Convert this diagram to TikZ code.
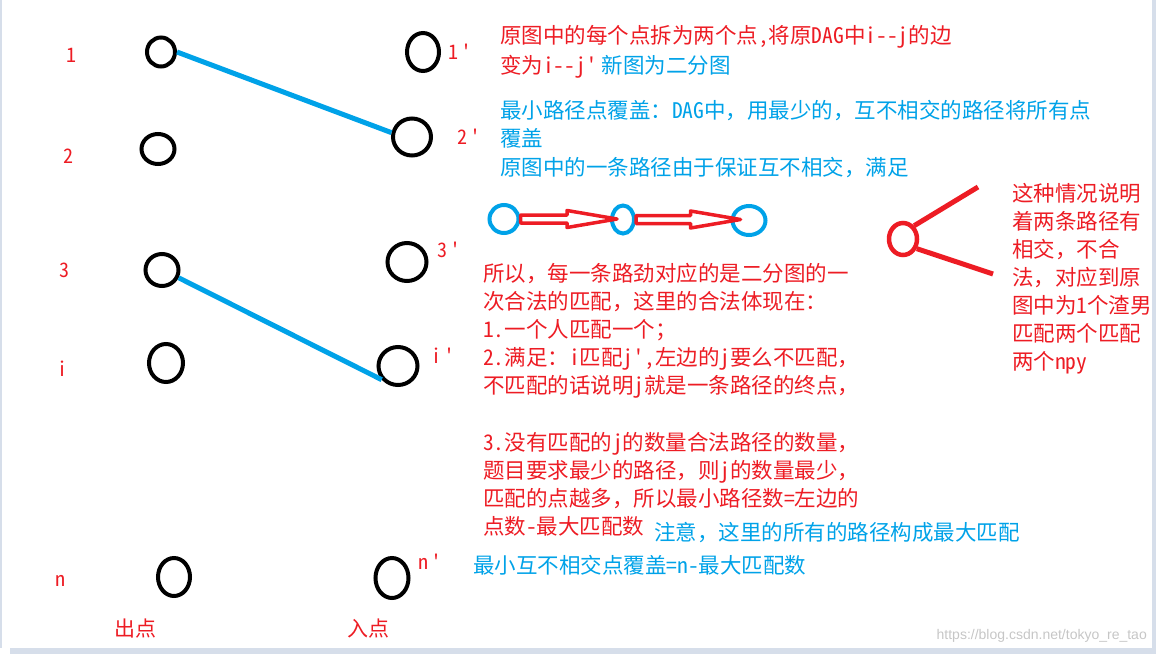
\documentclass[tikz,border=0pt]{standalone}
\usepackage{fontspec}
\newfontfamily\cjk{Noto Sans CJK SC}
\newfontfamily\hwfont[RawFeature=+hwid]{Noto Sans CJK SC}
\newfontfamily\wmfont{Liberation Sans}
\newcommand{\hw}[1]{{\hwfont #1}}
\usetikzlibrary{calc,shapes.geometric}
\definecolor{paintred}{RGB}{237,28,36}
\definecolor{paintblue}{RGB}{0,162,232}
\definecolor{framegray}{RGB}{214,222,234}
\tikzset{
  vtx/.style 2 args={ellipse,draw=black,line width=4pt,inner sep=0pt,
    minimum width=#1pt,minimum height=#2pt},
  pathvtx/.style 2 args={vtx={#1}{#2},draw=paintblue},
  match/.style={draw=paintblue,line width=5pt},
  hollow/.style={draw=paintred,line width=3.5pt,line join=round},
  fork/.style={draw=paintred,line width=5pt},
  lbl/.style={text=paintred,inner sep=0pt,font=\hwfont\fontsize{20}{20}\selectfont},
  redtxt/.style={text=paintred,anchor=west,inner sep=0pt,text height=19pt,
    text depth=2.5pt,font=\cjk\fontsize{21.5}{21.5}\selectfont},
  bluetxt/.style={redtxt,text=paintblue},
}
% hollow paint-style arrow: from, to, overlap of the tip
\newcommand{\hollowarrow}[3]{%
  \draw[hollow] let \p1=(#1.east), \p2=($(#2.west)+(#3,0)$) in
    (\x1,\y1+4pt) -- (\x2-50pt,\y1+4pt) -- (\x2-50pt,\y1+8.5pt) -- (\x2,\y1)
    -- (\x2-50pt,\y1-8.5pt) -- (\x2-50pt,\y1-4pt) -- (\x1,\y1-4pt) -- cycle;}
\begin{document}
\begin{tikzpicture}[x=1pt,y=-1pt]
  \useasboundingbox (0,0) rectangle (1156,654);
  % window frame
  \fill[framegray] (0,0) rectangle (2,648);
  \fill[framegray] (1152,0) rectangle (1156,654);
  \fill[framegray] (10,648) rectangle (1156,654);

  % out points
  \node[vtx={28}{29}] (l1) at (161,52) {};
  \node[vtx={33}{30}] (l2) at (158,149) {};
  \node[vtx={33}{32}] (l3) at (162,270) {};
  \node[vtx={34}{38}] (li) at (166,363) {};
  \node[vtx={32}{38}] (ln) at (174,577) {};
  % in points
  \node[vtx={32}{38}] (r1) at (423,52) {};
  \node[vtx={38}{37}] (r2) at (412,137) {};
  \node[vtx={39}{38}] (r3) at (407,262) {};
  \node[vtx={39}{38}] (ri) at (398,366) {};
  \node[vtx={33}{40}] (rn) at (392,578) {};

  % labels
  \node[lbl] (t1) at (71,55) {1};
  \node[lbl] (t2) at (68,156) {2};
  \node[lbl] (t3) at (64,270) {3};
  \node[lbl] (ti) at (62,369) {i};
  \node[lbl] (tn) at (60,581) {n};
  \node[lbl] (s1) at (460,52) {1\,'};
  \node[lbl] (s2) at (469,137) {2\,'};
  \node[lbl] (s3) at (449,250) {3\,'};
  \node[lbl] (si) at (443,356) {i\,'};
  \node[lbl] (sn) at (430,562) {n\,'};
  \node[lbl,font=\cjk\fontsize{21}{21}\selectfont] (out) at (135,628) {出点};
  \node[lbl,font=\cjk\fontsize{21}{21}\selectfont] (in) at (368,628) {入点};

  % matched edges
  \draw[match] (l1.east) -- (r2.168);
  \draw[match] (l3.-25) -- (ri.220);

  % a path in the DAG
  \node[pathvtx={29}{28}] (pa) at (504,219) {};
  \node[pathvtx={22}{28}] (pb) at (623,219.5) {};
  \node[pathvtx={33}{29}] (pc) at (749,220.5) {};
  \hollowarrow{pa}{pb}{7}
  \hollowarrow{pb}{pc}{10}

  % two paths meeting in one point
  \node[vtx={28}{32},draw=paintred,line width=4.5pt] (bad) at (903,239) {};
  \coordinate (f1) at (978,187);
  \coordinate (f2) at (993,274);
  \draw[fork] (bad.50) -- (f1);
  \draw[fork] (bad.-35) -- (f2);

  % notes
  \node[redtxt] (d1) at (500,35) {原图中的每个点拆为两个点\hw{,}将原\hw{DAG}中\hw{i--j}的边};
  \node[redtxt] (d2) at (500,65) {变为\hw{i--j'} \textcolor{paintblue}{新图为二分图}};
  \node[bluetxt] (d3) at (500,110) {最小路径点覆盖：\hw{DAG}中，用最少的，互不相交的路径将所有点};
  \node[bluetxt] (d4) at (500,138) {覆盖};
  \node[bluetxt] (d5) at (500,167) {原图中的一条路径由于保证互不相交，满足};
  \foreach \s [count=\k from 0] in {{所以，每一条路劲对应的是二分图的一},
      {次合法的匹配，这里的合法体现在：}, {\hw{1.}一个人匹配一个；},
      {\hw{2.}满足：\hw{i}匹配\hw{j',}左边的\hw{j}要么不匹配，},
      {不匹配的话说明\hw{j}就是一条路径的终点，}}
    \node[redtxt] (a\k) at (483,273+28*\k) {\s};
  \foreach \s [count=\k from 0] in {{\hw{3.}没有匹配的\hw{j}的数量合法路径的数量，},
      {题目要求最少的路径，则\hw{j}的数量最少，},
      {匹配的点越多，所以最小路径数\hw{=}左边的}, {点数\hw{-}最大匹配数}}
    \node[redtxt] (b\k) at (483,442+28*\k) {\s};
  \node[bluetxt] (d6) at (654,532) {注意，这里的所有的路径构成最大匹配};
  \node[bluetxt] (d7) at (473,565) {最小互不相交点覆盖\hw{=n-}最大匹配数};
  \foreach \s [count=\k from 0] in {这种情况说明, 着两条路径有, 相交，不合,
      法，对应到原, 图中为\hw{1}个渣男, 匹配两个匹配, 两个\hw{npy}}
    \node[redtxt] (w\k) at (1012,193+28*\k) {\s};

  % watermark
  \node[text=gray!45,anchor=east,inner sep=0pt,font=\wmfont\fontsize{14}{14}\selectfont]
    (wm) at (1147,636) {https://blog.csdn.net/tokyo\_re\_tao};
\end{tikzpicture}
\end{document}
